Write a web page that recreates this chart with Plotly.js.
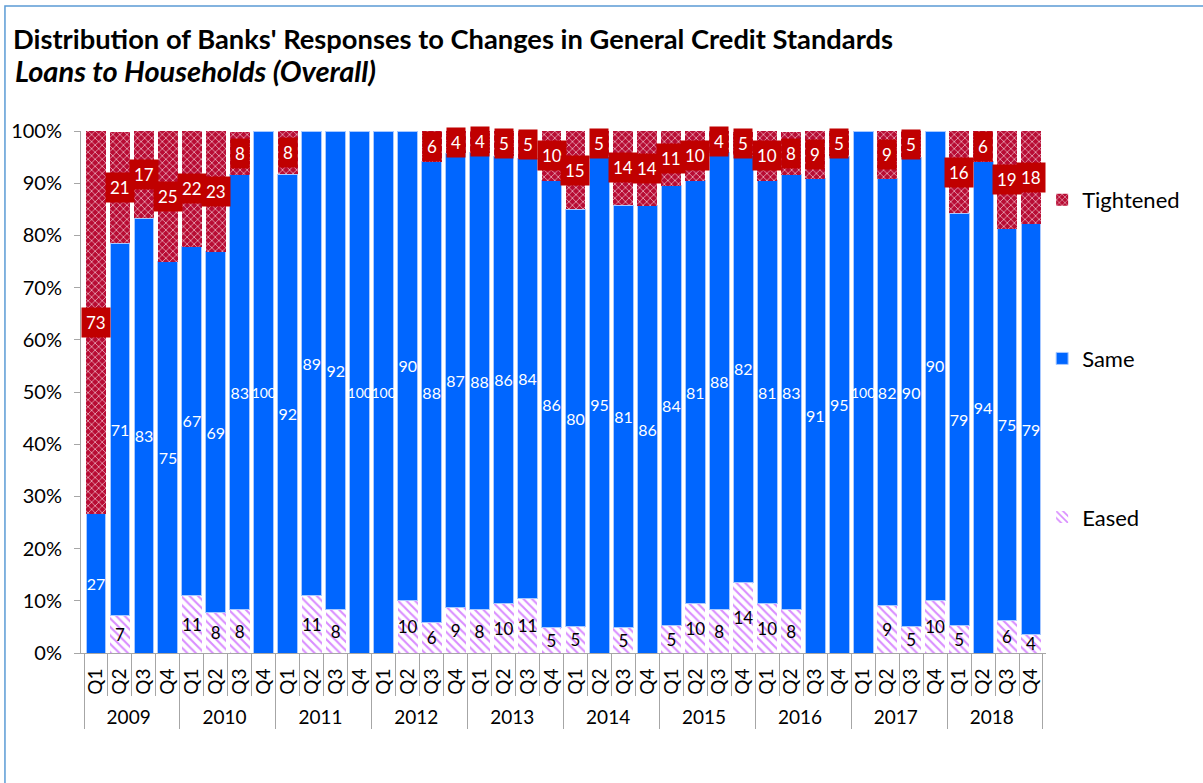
<!DOCTYPE html>
<html>
<head>
<meta charset="utf-8">
<script src="https://cdn.plot.ly/plotly-3.0.1.min.js"></script>
<style>
  html, body { margin: 0; padding: 0; background: #ffffff; }
  #chart { width: 1203px; height: 783px; }
</style>
</head>
<body>
<div id="chart"></div>
<script>
// ---- Data (percent of banks) ----
const years    = ['2009','2010','2011','2012','2013','2014','2015','2016','2017','2018'];
const quarters = ['Q1','Q2','Q3','Q4'];

const eased = [
  0, 7.1, 0, 0,
  11.1, 7.7, 8.3, 0,
  0, 11.1, 8.3, 0,
  0, 10, 5.9, 8.7,
  8.3, 9.5, 10.5, 4.8,
  5, 0, 4.8, 0,
  5.3, 9.5, 8.3, 13.6,
  9.5, 8.3, 0, 0,
  0, 9.1, 5, 10,
  5.3, 0, 6.25, 3.6
];
const same = [
  26.7, 71.4, 83.3, 75,
  66.7, 69.2, 83.3, 100,
  91.7, 88.9, 91.7, 100,
  100, 90, 88.2, 87.0,
  87.5, 85.7, 84.2, 85.7,
  80, 95.2, 81.0, 85.7,
  84.2, 81.0, 87.5, 81.8,
  81.0, 83.3, 90.9, 95.2,
  100, 81.8, 90, 90,
  78.9, 94.1, 75, 78.6
];
const tightened = [
  73.3, 21.4, 16.7, 25,
  22.2, 23.1, 8.3, 0,
  8.3, 0, 0, 0,
  0, 0, 5.9, 4.3,
  4.2, 4.8, 5.3, 9.5,
  15, 4.8, 14.3, 14.3,
  10.5, 9.5, 4.2, 4.5,
  9.5, 8.3, 9.1, 4.8,
  0, 9.1, 5, 0,
  15.8, 5.9, 18.75, 17.9
];

// ---- Build category arrays ----
const xYear = [], xQ = [];
years.forEach(y => quarters.forEach(q => { xYear.push(y); xQ.push(q); }));
const xCat = [xYear, xQ];
const lbl = arr => arr.map(v => v > 0 ? String(Math.round(v)) : '');
const sameText = lbl(same);
const sameSizes = sameText.map(s => s.length > 2 ? 14 : 16);

const FONT = 'Lato, "Open Sans", sans-serif';

const traces = [
  {
    type: 'bar', name: 'Eased', legendgroup: 'e', legendrank: 3,
    x: xCat, y: eased,
    text: lbl(eased), texttemplate: '%{text}',
    textposition: 'inside', insidetextanchor: 'middle', constraintext: 'none', textangle: 0,
    textfont: { family: FONT, size: 17, color: '#000000' },
    marker: {
      color: '#ffffff',
      line: { width: 0 },
      pattern: { shape: '\\', fgcolor: '#d98cff', bgcolor: '#ffffff', size: 6, solidity: 0.35 }
    },
    hoverinfo: 'skip'
  },
  {
    type: 'bar', name: 'Same', legendgroup: 's', legendrank: 2,
    x: xCat, y: same,
    text: sameText, texttemplate: '%{text}',
    textposition: 'inside', insidetextanchor: 'middle', constraintext: 'none', textangle: 0,
    textfont: { family: FONT, size: sameSizes, color: '#ffffff' },
    marker: { color: '#0066ff', line: { width: 1, color: '#a9c9ff' } },
    hoverinfo: 'skip'
  },
  {
    type: 'bar', name: 'Tightened', legendgroup: 't', legendrank: 1,
    x: xCat, y: tightened,
    textposition: 'none',
    marker: {
      color: '#b40a32',
      line: { width: 0 },
      pattern: { shape: 'x', fgcolor: '#f2c9d3', bgcolor: '#b80c34', size: 5, solidity: 0.25 }
    },
    hoverinfo: 'skip'
  }
];

// Red boxed labels for the Tightened segments
const annotations = [];
tightened.forEach((t, i) => {
  if (t > 0) {
    annotations.push({
      x: i, y: eased[i] + same[i] + t / 2, xref: 'x', yref: 'y',
      text: String(Math.round(t)), showarrow: false,
      font: { family: FONT, size: 17, color: '#ffffff' },
      bgcolor: '#c00000', borderpad: 4
    });
  }
});
// Subtitle
annotations.push({
  xref: 'paper', yref: 'paper', x: -0.0705, y: 1.115, xanchor: 'left', yanchor: 'middle',
  text: '<b><i>Loans to Households (Overall)</i></b>', showarrow: false,
  font: { family: FONT, size: 29, color: '#000000' }
});

const layout = {
  width: 1203, height: 783,
  margin: { l: 81, r: 157, t: 131, b: 130 },
  paper_bgcolor: '#ffffff', plot_bgcolor: '#ffffff',
  font: { family: FONT, color: '#000000' },
  title: {
    text: '<b>Distribution of Banks\' Responses to Changes in General Credit Standards</b>',
    x: 13 / 1203, xref: 'container', xanchor: 'left',
    y: 0.949, yref: 'container', yanchor: 'middle',
    font: { family: FONT, size: 27.3, color: '#000000' }
  },
  barmode: 'stack', bargap: 0.17,
  showlegend: true,
  legend: {
    x: 0.996, xanchor: 'left', y: 0.908, yanchor: 'top',
    traceorder: 'grouped', tracegroupgap: 127,
    font: { family: FONT, size: 22, color: '#000000' },
    bgcolor: 'rgba(0,0,0,0)'
  },
  xaxis: {
    type: 'multicategory',
    showline: true, linecolor: '#a6a6a6', linewidth: 1,
    ticks: 'outside', tickson: 'boundaries', ticklen: 42, tickcolor: '#a6a6a6',
    ticklabelstandoff: 7,
    tickangle: -90,
    showdividers: true, dividercolor: '#a6a6a6', dividerwidth: 1,
    tickfont: { family: FONT, size: 19, color: '#000000' },
    showgrid: false, fixedrange: true
  },
  yaxis: {
    range: [0, 100], dtick: 10, ticksuffix: '%',
    showline: true, linecolor: '#a6a6a6', linewidth: 1,
    ticks: 'outside', ticklen: 6, tickcolor: '#a6a6a6',
    ticklabelstandoff: 8,
    tickfont: { family: FONT, size: 20, color: '#000000' },
    showgrid: false, zeroline: false, fixedrange: true
  },
  annotations: annotations,
  shapes: [{
    type: 'rect', xref: 'paper', yref: 'paper',
    x0: -0.0788, x1: 1.175, y0: -0.272, y1: 1.2395,
    line: { color: '#5b9bd5', width: 1.5 }, fillcolor: 'rgba(0,0,0,0)', layer: 'below'
  }]
};

Plotly.newPlot('chart', traces, layout, { displayModeBar: false, staticPlot: true });
</script>
</body>
</html>
